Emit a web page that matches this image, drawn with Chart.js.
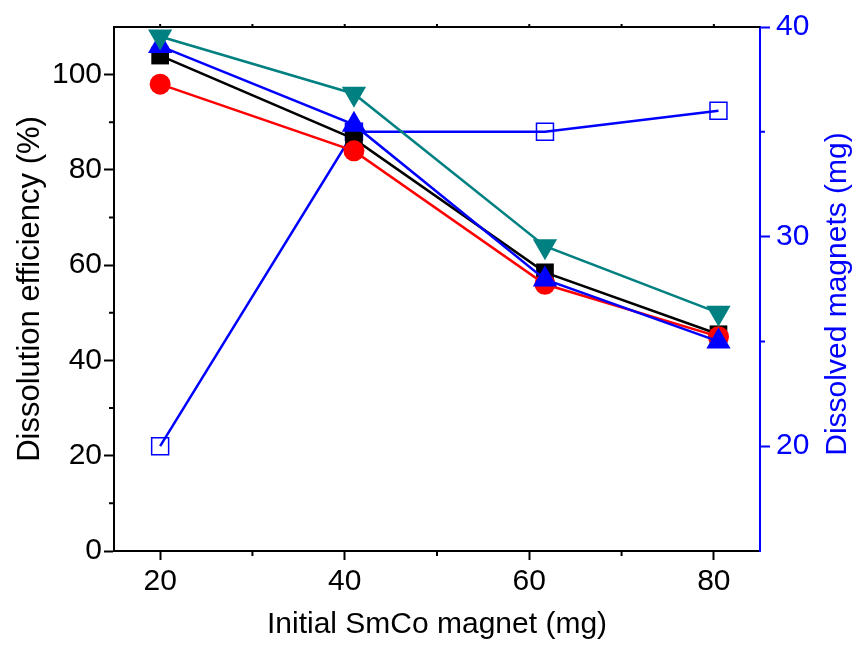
<!DOCTYPE html>
<html>
<head>
<meta charset="utf-8">
<script src="https://cdn.jsdelivr.net/npm/chart.js@4"></script>
<style>
  html, body { margin: 0; padding: 0; background: #fff; }
  #wrap { width: 857px; height: 645px; }
</style>
</head>
<body>
<div id="wrap"><canvas id="chart" width="857" height="645"></canvas></div>
<script>
// initial magnet mass (mg)
const magnetMass = [20, 41, 61.7, 80.5];

// dissolution efficiency (%) for each run
const effBlack = [104, 86.5, 58.5, 45.5];
const effRed = [98, 84, 56, 45];
const effTeal = [108, 96, 64, 50];
const effBlue = [106, 89.5, 57, 44];

// dissolved magnet mass (mg), right axis
const dissolved = [20, 35, 35, 36];

// tick values
const xTicks = [20, 40, 60, 80];
const xMinor = [30, 50, 70];
const leftTicks = [0, 20, 40, 60, 80, 100];
const leftMinor = [10, 30, 50, 70, 90];
const rightTicks = [20, 30, 40];
const rightMinor = [25, 35];

const rightTitle = "Dissolved magnets (mg)";

const FONT = "'Liberation Sans', Arial, sans-serif";
const BLUE = "#0000ff";

function pts(ys) {
  return magnetMass.map((x, i) => ({ x: x, y: ys[i] }));
}

function fixedTicks(values) {
  return scale => { scale.ticks = values.map(v => ({ value: v })); };
}

// short minor ticks, the top frame line and the right axis title (reads bottom to top)
const frame = {
  id: "frame",
  afterDraw(chart) {
    const ctx = chart.ctx;
    const a = chart.chartArea;
    const sx = chart.scales.x, sl = chart.scales.y, sr = chart.scales.y2;
    ctx.save();
    ctx.lineWidth = 2;
    ctx.strokeStyle = "#000";
    ctx.beginPath();
    ctx.moveTo(a.left, a.top);
    ctx.lineTo(a.right, a.top);
    xMinor.forEach(v => {
      const p = sx.getPixelForValue(v);
      ctx.moveTo(p, a.bottom); ctx.lineTo(p, a.bottom + 5);
    });
    xTicks.concat(xMinor).forEach(v => {
      const p = sx.getPixelForValue(v);
      ctx.moveTo(p, a.top); ctx.lineTo(p, a.top - 3);
    });
    leftMinor.forEach(v => {
      const p = sl.getPixelForValue(v);
      ctx.moveTo(a.left, p); ctx.lineTo(a.left - 5, p);
    });
    ctx.stroke();
    ctx.strokeStyle = BLUE;
    ctx.beginPath();
    rightMinor.forEach(v => {
      const p = sr.getPixelForValue(v);
      ctx.moveTo(a.right, p); ctx.lineTo(a.right + 5, p);
    });
    ctx.stroke();

    ctx.translate(838, (a.top + a.bottom) / 2 + 5);
    ctx.rotate(-Math.PI / 2);
    ctx.fillStyle = BLUE;
    ctx.font = "30px " + FONT;
    ctx.textAlign = "center";
    ctx.textBaseline = "middle";
    ctx.fillText(rightTitle, 0, 0);
    ctx.restore();
  }
};

new Chart(document.getElementById("chart"), {
  type: "line",
  data: {
    datasets: [
      {
        data: pts(effTeal), yAxisID: "y",
        borderColor: "#008080", backgroundColor: "#008080", borderWidth: 2.5,
        pointStyle: "triangle", rotation: 180, pointRadius: 14, pointBorderWidth: 0
      },
      {
        data: pts(effBlue), yAxisID: "y",
        borderColor: BLUE, backgroundColor: BLUE, borderWidth: 2.5,
        pointStyle: "triangle", pointRadius: 14, pointBorderWidth: 0
      },
      {
        data: pts(effRed), yAxisID: "y",
        borderColor: "#ff0000", backgroundColor: "#ff0000", borderWidth: 2.5,
        pointStyle: "circle", pointRadius: 10.5, pointBorderWidth: 0
      },
      {
        data: pts(effBlack), yAxisID: "y",
        borderColor: "#000", backgroundColor: "#000", borderWidth: 2.5,
        pointStyle: "rect", pointRadius: 12.5, pointBorderWidth: 0
      },
      {
        data: pts(dissolved), yAxisID: "y2",
        borderColor: BLUE, backgroundColor: "rgba(0,0,0,0)", borderWidth: 2.5,
        pointStyle: "rect", pointRadius: 12, pointBorderWidth: 1.5,
        pointBorderColor: BLUE, pointBackgroundColor: "rgba(0,0,0,0)"
      }
    ]
  },
  options: {
    animation: false,
    responsive: false,
    layout: { padding: { top: 27, left: 0, right: 0, bottom: 0 } },
    plugins: { legend: { display: false }, tooltip: { enabled: false } },
    elements: { line: { tension: 0 } },
    scales: {
      x: {
        type: "linear", min: 15, max: 85,
        afterBuildTicks: fixedTicks(xTicks),
        afterFit: s => { s.height = 94; },
        border: { color: "#000", width: 2 },
        grid: { drawOnChartArea: false, tickLength: 9, tickWidth: 2, tickColor: "#000" },
        ticks: { color: "#000", font: { family: FONT, size: 30 }, padding: 4, maxRotation: 0 },
        title: {
          display: true, text: "Initial SmCo magnet (mg)", color: "#000",
          font: { family: FONT, size: 30 }, padding: { top: 0, bottom: 2 }
        }
      },
      y: {
        type: "linear", position: "left", min: 0, max: 110,
        afterBuildTicks: fixedTicks(leftTicks),
        afterFit: s => { s.width = 114; },
        border: { color: "#000", width: 2 },
        grid: { drawOnChartArea: false, tickLength: 10, tickWidth: 2, tickColor: "#000" },
        ticks: { color: "#000", font: { family: FONT, size: 30 }, padding: 2 },
        title: {
          display: true, text: "Dissolution efficiency (%)", color: "#000",
          font: { family: FONT, size: 31 }, padding: { top: 12, bottom: 0 }
        }
      },
      y2: {
        type: "linear", position: "right", min: 15, max: 40,
        afterBuildTicks: fixedTicks(rightTicks),
        afterFit: s => { s.width = 97; },
        border: { color: BLUE, width: 2 },
        grid: { drawOnChartArea: false, tickLength: 10, tickWidth: 2, tickColor: BLUE },
        ticks: { color: BLUE, font: { family: FONT, size: 30 }, padding: 6 }
      }
    }
  },
  plugins: [frame]
});
</script>
</body>
</html>
